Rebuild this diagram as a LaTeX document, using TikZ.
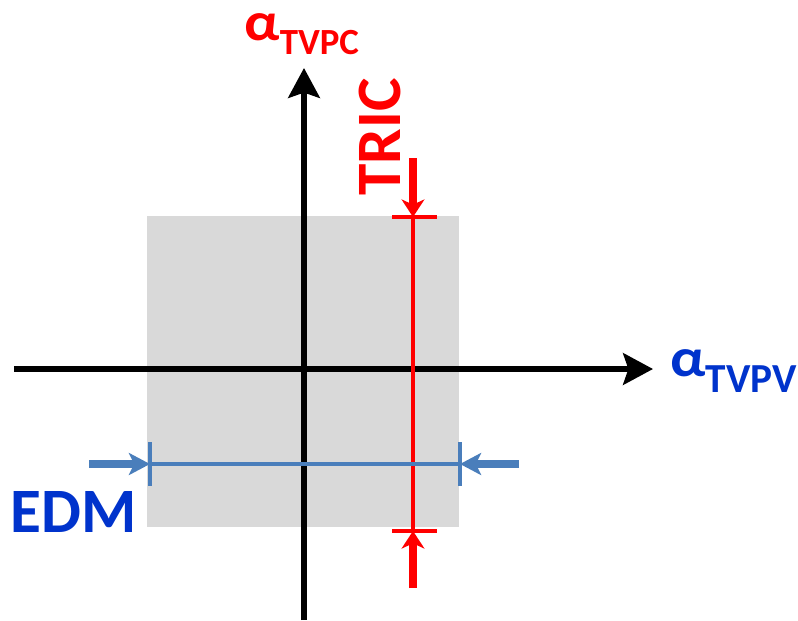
\documentclass[tikz,border=0pt]{standalone}
\usepackage{fontspec}
\setmainfont{Carlito}
\usetikzlibrary{arrows.meta}
\definecolor{boxgray}{RGB}{217,217,217}
\definecolor{labelblue}{RGB}{0,51,204}
\definecolor{barblue}{RGB}{74,126,187}

\begin{document}
\begin{tikzpicture}[
    x=0.02cm, y=-0.02cm,
    axis/.style={draw, line width=3pt, -{Stealth[length=17pt,width=18pt,inset=3pt]}},
    bigfont/.style={font=\fontsize{36}{36}\selectfont\bfseries},
    alpha/.style={font=\fontsize{31}{31}\selectfont\bfseries, anchor=base west, inner sep=0pt},
    tric/.style={draw=red, line width=4pt, -{Stealth[length=10pt,width=13pt,inset=3pt]}},
    edm/.style={draw=barblue, line width=4pt, -{Stealth[length=12pt,width=12.5pt,inset=3pt]}},
    redtick/.style={draw=red, line width=2.8pt},
    bluetick/.style={draw=barblue, line width=2.8pt}
  ]
  \useasboundingbox (0,0) rectangle (798,620);

  % Window
  \fill[boxgray] (147,216) rectangle (459,527);

  % Axes
  \coordinate (xstart) at (14,369);
  \coordinate (xend) at (653,369);
  \coordinate (ystart) at (304,620);
  \coordinate (yend) at (304,68);
  \draw[axis] (xstart) -- (xend);
  \draw[axis] (ystart) -- (yend);
  \node[alpha, text=red] (ylab) at (244,40) {\smash{\scalebox{1.1}[1]{α}}\raisebox{-8.5pt}{\fontsize{21}{21}\selectfont TVPC}};
  \node[alpha, text=labelblue] (xlab) at (670,376) {\smash{\scalebox{1.1}[1]{α}}\raisebox{-9.6pt}{\fontsize{23.5}{23.5}\selectfont TVPV}};

  % TRIC
  \coordinate (tricA) at (413,217);
  \coordinate (tricB) at (413,531);
  \coordinate (tricInA) at (413,158);
  \coordinate (tricInB) at (413,588);
  \draw[red, line width=2.2pt] (tricA) -- (tricB);
  \draw[redtick] ([xshift=-21*0.02cm]tricA) -- ([xshift=24*0.02cm]tricA);
  \draw[redtick] ([xshift=-21*0.02cm]tricB) -- ([xshift=24*0.02cm]tricB);
  \draw[tric] (tricInA) -- (tricA);
  \draw[tric] (tricInB) -- (tricB);
  \node[bigfont, text=red, rotate=90, anchor=base, inner sep=0pt] (tric) at (400,137) {TRIC};

  % EDM
  \coordinate (edmA) at (150,464);
  \coordinate (edmB) at (460,464);
  \coordinate (edmInA) at (89,464);
  \coordinate (edmInB) at (519,464);
  \draw[barblue, line width=2.2pt] (edmA) -- (edmB);
  \draw[bluetick] ([yshift=22*0.02cm]edmA) -- ([yshift=-22*0.02cm]edmA);
  \draw[bluetick] ([yshift=22*0.02cm]edmB) -- ([yshift=-22*0.02cm]edmB);
  \draw[edm] (edmInA) -- (edmA);
  \draw[edm] (edmInB) -- (edmB);
  \node[bigfont, text=labelblue, anchor=base west, inner sep=0pt] (edm) at (10,532) {EDM};
\end{tikzpicture}
\end{document}
